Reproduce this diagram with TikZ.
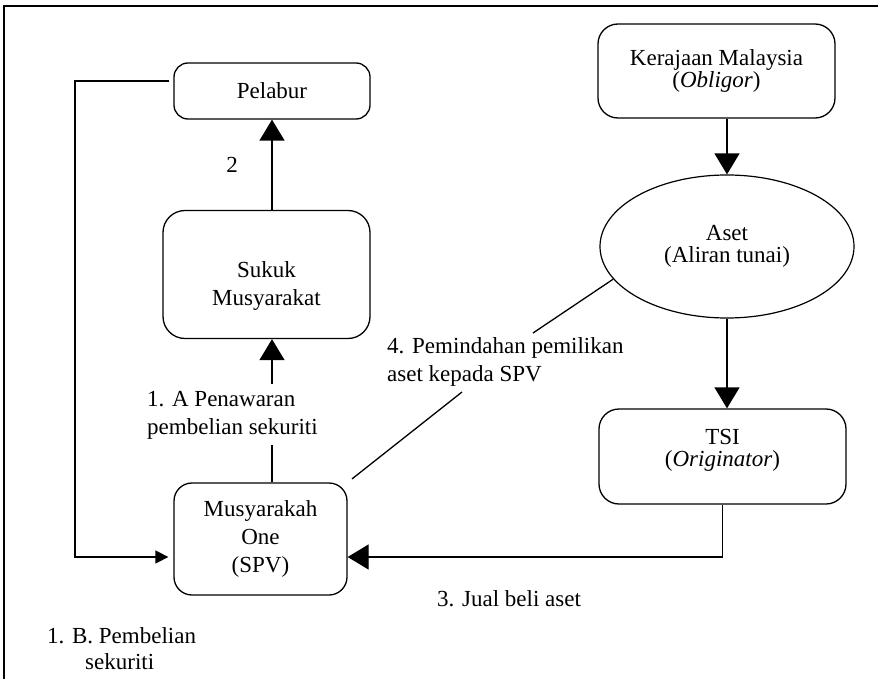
\documentclass[tikz,border=0pt]{standalone}
\usepackage{fontspec}
\setmainfont{Liberation Serif}
\usetikzlibrary{arrows.meta,shapes.geometric}
\begin{document}
\begin{tikzpicture}[x=1pt,y=-1pt,
  font=\fontsize{23}{28}\selectfont,
  box/.style={draw,line width=1.3pt,rounded corners=#1,align=center,inner sep=0pt},
  tight/.style={font=\fontsize{23}{22}\selectfont},
  conn/.style={line width=1.3pt},
  big/.style={conn,-{Triangle[width=25pt,length=21pt]}},
  small/.style={conn,-{Triangle[width=13pt,length=13pt]}},
  lbl/.style={align=left,inner sep=0pt},
  frameline/.style={line width=2.5pt}]
\useasboundingbox (0,0) rectangle (878,679);
\draw[frameline] (878,6) -- (4,6) -- (4,679);

% boxes
\node[box=14pt,minimum width=196pt,minimum height=56pt] (pel) at (272,91) {Pelabur};
\node[box=22pt,minimum width=207pt,minimum height=128pt] (suk) at (266.5,274.5) {\rule{0pt}{38pt}Sukuk\\Musyarakat};
\node[box=18pt,minimum width=173pt,minimum height=112pt] (musy) at (260.5,539) {Musyarakah\\One\\(SPV)};
\node[box=20pt,tight,minimum width=237pt,minimum height=94pt] (ker) at (716.5,71) {Kerajaan Malaysia\\(\textit{Obligor})};
\node[draw,ellipse,line width=1.2pt,tight,align=center,inner sep=0pt,minimum width=254pt,minimum height=143pt] (aset) at (727,246.5) {Aset\\(Aliran tunai)};
\node[box=20pt,tight,minimum width=247pt,minimum height=95pt] (tsi) at (722.5,456.5) {TSI\\(\textit{Originator})\rule[-17pt]{0pt}{17pt}};

% connectors
\coordinate (lt) at (75,81);
\coordinate (lb) at (75,557);
\draw[small,shorten >=5pt,shorten <=4pt] (pel.west |- lt) -- (lt) -- (lb) -- (musy.west |- lb);
\draw[big] (suk.north -| pel.south) -- (pel.south);

\coordinate (a1) at (272,445);
\coordinate (a2) at (272,384);
\draw[conn] (musy.north -| a1) -- (a1);
\draw[big] (a2) -- (suk.south -| a2);

\coordinate (b1) at (533,333);
\coordinate (b2) at (462,392);
\draw[conn] (aset.196) -- (b1);
\draw[conn,shorten >=5.5pt] (b2) -- (musy.north east);

\draw[big] (ker.south -| aset.north) -- (aset.north);
\draw[big] (aset.south) -- (tsi.north -| aset.south);
\draw[big] (tsi.south) |- (musy.east |- lb);

% labels
\node[lbl,anchor=base] (two) at (232,173) {2};
\node[lbl,anchor=north west] (l1a) at (147,391.3) {1. A Penawaran\\pembelian sekuriti};
\node[lbl,anchor=north west] (l4) at (387,337.3) {4. Pemindahan pemilikan\\aset kepada SPV};
\node[lbl,anchor=base west] (l3) at (437,606) {3. Jual beli aset};
\node[lbl,anchor=north west] (l1b) at (47,627.3) {1. B. Pembelian\\[-2pt]\hspace*{38pt}sekuriti};
\end{tikzpicture}
\end{document}
